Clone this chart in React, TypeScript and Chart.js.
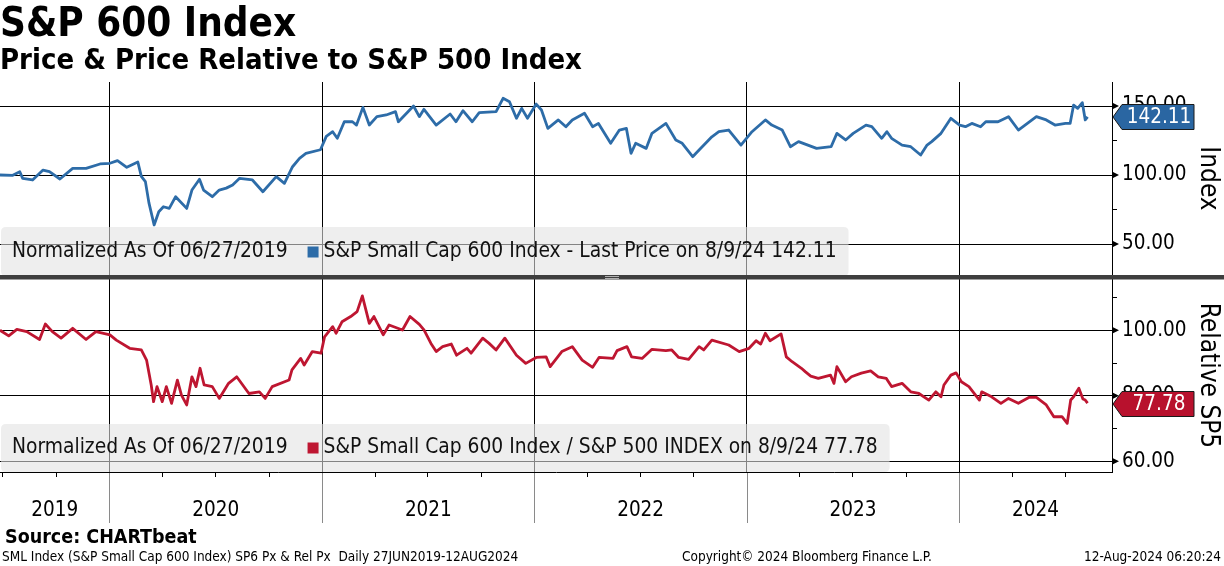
import React, { useEffect, useRef } from 'react';
import { Chart, registerables } from 'chart.js';

Chart.register(...registerables);

const FONT = '"DejaVu Sans Condensed", "DejaVu Sans", sans-serif';

const priceDates = [
  '2019-06-27','2019-07-19','2019-07-31','2019-08-05','2019-08-22','2019-09-09','2019-09-20','2019-10-08','2019-10-30','2019-11-22','2019-12-16',
  '2020-01-02','2020-01-15','2020-01-31','2020-02-19','2020-02-25','2020-03-03','2020-03-09','2020-03-18','2020-03-26','2020-04-03','2020-04-13','2020-04-24','2020-05-13','2020-05-22','2020-06-04','2020-06-11','2020-06-26','2020-07-08','2020-07-20','2020-07-31','2020-08-12','2020-09-03','2020-09-21','2020-10-14','2020-10-28','2020-11-11','2020-11-23','2020-12-04','2020-12-29',
  '2021-01-08','2021-01-19','2021-01-27','2021-02-08','2021-02-22','2021-03-01','2021-03-12','2021-03-23','2021-04-05','2021-04-21','2021-05-07','2021-05-12','2021-06-07','2021-06-17','2021-06-25','2021-07-16','2021-08-09','2021-08-19','2021-08-31','2021-09-16','2021-09-28','2021-10-27','2021-11-08','2021-11-19','2021-12-01','2021-12-10','2021-12-20',
  '2022-01-04','2022-01-13','2022-01-24','2022-02-11','2022-02-24','2022-03-07','2022-03-28','2022-04-11','2022-04-21','2022-05-12','2022-05-27','2022-06-08','2022-06-16','2022-06-24','2022-07-12','2022-07-22','2022-08-15','2022-09-01','2022-09-12','2022-09-30','2022-10-11','2022-11-02','2022-11-14','2022-12-01','2022-12-22',
  '2023-01-10','2023-02-02','2023-02-13','2023-03-03','2023-03-17','2023-03-31','2023-05-01','2023-05-26','2023-06-05','2023-06-20','2023-07-03','2023-07-25','2023-08-04','2023-08-21','2023-08-30','2023-09-07','2023-09-25','2023-10-10','2023-10-27','2023-11-07','2023-11-15','2023-12-01','2023-12-18',
  '2024-01-02','2024-01-12','2024-01-23','2024-02-07','2024-02-16','2024-03-08','2024-03-26','2024-04-12','2024-05-13','2024-05-30','2024-06-14','2024-07-02','2024-07-10','2024-07-16','2024-07-23','2024-07-31','2024-08-05','2024-08-09',
];
const priceValues = [
  100, 99.8, 102.4, 97.6, 96.4, 103.6, 102.4, 97.1, 104.8, 104.8, 108,
  108.5, 110.4, 105.6, 109.4, 99, 95.2, 80, 63.8, 73.4, 77, 75.8, 84.3, 75.8, 89.1, 96.9, 89.1, 84.3, 89.1, 90.5, 92.8, 97.6, 96.4, 87.9, 98.8, 94, 106, 112.1, 115.7, 118.3,
  128, 131.4, 126.6, 138.6, 138.6, 136.2, 149, 136.2, 142.3, 143.5, 145.9, 138.6, 150, 142.3, 147.6, 136.2, 144.2, 138.6, 146.6, 138.6, 145.2, 145.9, 155.6, 153.1, 141.1, 148.3, 141.1,
  151.4, 147.1, 133.8, 139.9, 135, 139.9, 144.7, 135, 137.4, 123, 132.6, 133.8, 115.7, 123, 119.3, 130.2, 137.4, 125.4, 123, 113.3, 118.1, 127.7, 131.4, 132.6, 121.7,
  131.4, 139.9, 136.2, 132.6, 120.5, 124.2, 119.3, 120.5, 130.2, 125.4, 130.2, 136.2, 135, 126.6, 131.4, 126.6, 121.7, 120.5, 114.5, 121.7, 124.2, 130.2, 141.1,
  136.2, 135, 137.4, 135, 138.6, 138.6, 142.3, 132.6, 142.3, 139.9, 136.2, 137.4, 137.4, 150.7, 148.3, 152.4, 139.9, 142.11,
];

const relDates = [
  '2019-06-27','2019-07-12','2019-07-26','2019-08-12','2019-09-03','2019-09-13','2019-09-25','2019-10-10','2019-10-30','2019-11-22','2019-12-09',
  '2020-01-02','2020-01-13','2020-02-05','2020-02-25','2020-03-05','2020-03-13','2020-03-17','2020-03-23','2020-04-01','2020-04-08','2020-04-17','2020-04-27','2020-05-04','2020-05-13','2020-05-22','2020-05-29','2020-06-05','2020-06-12','2020-06-26','2020-07-08','2020-07-24','2020-08-07','2020-08-28','2020-09-15','2020-09-25','2020-10-07','2020-11-05','2020-11-10','2020-11-25','2020-12-01','2020-12-15','2020-12-30',
  '2021-01-05','2021-01-19','2021-01-25','2021-02-04','2021-02-19','2021-03-02','2021-03-11','2021-03-23','2021-03-31','2021-04-16','2021-04-26','2021-05-19','2021-06-01','2021-06-17','2021-06-25','2021-07-07','2021-07-16','2021-07-27','2021-08-11','2021-08-20','2021-09-07','2021-09-14','2021-10-04','2021-10-15','2021-10-27','2021-11-11','2021-12-01','2021-12-17',
  '2022-01-04','2022-01-21','2022-01-28','2022-02-17','2022-03-07','2022-03-24','2022-04-11','2022-04-22','2022-05-16','2022-05-23','2022-06-09','2022-06-17','2022-07-05','2022-07-22','2022-08-15','2022-08-25','2022-09-06','2022-09-23','2022-10-11','2022-10-19','2022-11-02','2022-12-01','2022-12-19',
  '2023-01-05','2023-01-17','2023-01-25','2023-02-02','2023-02-10','2023-03-01','2023-03-10','2023-03-20','2023-04-05','2023-04-12','2023-04-21','2023-05-04','2023-05-25','2023-05-31','2023-06-05','2023-06-20','2023-06-30','2023-07-17','2023-08-02','2023-08-15','2023-08-29','2023-09-07','2023-09-25','2023-10-10','2023-10-24','2023-11-10','2023-11-22','2023-12-01','2023-12-06','2023-12-18','2023-12-27',
  '2024-01-05','2024-01-18','2024-02-05','2024-02-09','2024-02-26','2024-03-13','2024-03-26','2024-04-12','2024-04-30','2024-05-13','2024-05-30','2024-06-12','2024-06-26','2024-07-05','2024-07-11','2024-07-16','2024-07-25','2024-08-01','2024-08-05','2024-08-09',
];
const relValues = [
  100, 98.3, 100.3, 99.6, 97.2, 101.9, 99.6, 97.6, 100.6, 97.2, 99.6,
  98.6, 97, 94.5, 94, 90.9, 83.3, 78.2, 82.8, 78.2, 82.8, 77.7, 84.8, 80.2, 77.2, 85.8, 82.8, 88.4, 83.3, 82.8, 79.2, 83.8, 85.8, 80.7, 81.2, 79.2, 82.8, 84.8, 87.9, 91.4, 89.4, 93.5, 93,
  98, 101.1, 99.1, 102.6, 104.2, 105.7, 110.5, 102.1, 104.2, 98.6, 101.6, 100.1, 104.2, 101.8, 100.1, 96, 93.5, 95, 95.8, 92.4, 94.5, 93, 97.6, 96, 94, 97.6, 92.4, 89.9,
  91.7, 91.9, 88.9, 93.5, 95, 90.9, 88.7, 91.7, 91.4, 93.8, 95, 91.9, 91.4, 94.2, 93.8, 94, 91.7, 91.1, 95, 94, 97, 95.5, 93.5,
  94.5, 96.8, 95.8, 99.1, 96.8, 98.9, 91.9, 90.4, 88.4, 87.3, 86, 85.3, 86.3, 83.8, 88.9, 84.3, 85.8, 86.9, 87.6, 85.8, 85.3, 82.8, 83.8, 81.2, 80.7, 78.7, 81.2, 79.7, 83.3, 86.3, 87,
  84.3, 82.8, 78.7, 81.2, 79.7, 77.7, 79.2, 77.7, 79.5, 79.5, 77.2, 73.6, 73.6, 71.6, 78.7, 79.7, 82.3, 79, 78.7, 77.78,
];

const yearLabels = ['2019', '2020', '2021', '2022', '2023', '2024'];
const priceTicks = [50, 75, 100, 125, 150];
const priceMajor = [50, 100, 150];
const relTicks = [60, 70, 80, 90, 100, 110];
const relMajor = [60, 80, 100];

const xStart = '2019-06-27';
const xEnd = '2024-09-20';

const priceLegend = 'S&P Small Cap 600 Index - Last Price on 8/9/24 142.11';
const relLegend = 'S&P Small Cap 600 Index / S&P 500 INDEX on 8/9/24 77.78';
const normLabel = 'Normalized As Of 06/27/2019';

const BLUE = '#2d6ca8';
const RED = '#be1631';
const BLUE_BADGE = '#2a66a2';
const RED_BADGE = '#b8112d';

const toDay = (s: string) => {
  const [y, m, d] = s.split('-').map(Number);
  return Date.UTC(y, m - 1, d) / 86400000;
};

function roundRect(ctx: CanvasRenderingContext2D, x: number, y: number, w: number, h: number, r: number) {
  ctx.beginPath();
  ctx.moveTo(x + r, y);
  ctx.lineTo(x + w - r, y);
  ctx.quadraticCurveTo(x + w, y, x + w, y + r);
  ctx.lineTo(x + w, y + h - r);
  ctx.quadraticCurveTo(x + w, y + h, x + w - r, y + h);
  ctx.lineTo(x + r, y + h);
  ctx.quadraticCurveTo(x, y + h, x, y + h - r);
  ctx.lineTo(x, y + r);
  ctx.quadraticCurveTo(x, y, x + r, y);
  ctx.closePath();
}

function legendBox(ctx: CanvasRenderingContext2D, top: number, bottom: number, midY: number, color: string, label: string) {
  ctx.font = `20.8px ${FONT}`;
  const w1 = ctx.measureText(normLabel).width;
  const sqX = 12 + w1 + 20;
  const txtX = sqX + 16;
  const w2 = ctx.measureText(label).width;
  const right = txtX + w2 + 12;
  ctx.fillStyle = 'rgba(226,226,226,0.58)';
  roundRect(ctx, 1, top, right - 1, bottom - top, 5);
  ctx.fill();
  ctx.fillStyle = '#111';
  ctx.textAlign = 'left';
  ctx.textBaseline = 'middle';
  ctx.fillText(normLabel, 12, midY);
  ctx.fillStyle = color;
  ctx.fillRect(sqX, midY - 5.5, 11, 11);
  ctx.fillStyle = '#111';
  ctx.fillText(label, txtX, midY);
}

function badge(ctx: CanvasRenderingContext2D, y: number, text: string, color: string) {
  const tip = 1113, base = 1122, right = 1194, h = 25;
  const top = Math.round(y - h / 2) + 0.5;
  ctx.beginPath();
  ctx.moveTo(tip, top + h / 2);
  ctx.lineTo(base, top);
  ctx.lineTo(right, top);
  ctx.lineTo(right, top + h);
  ctx.lineTo(base, top + h);
  ctx.closePath();
  ctx.fillStyle = color;
  ctx.fill();
  ctx.strokeStyle = '#1a1a1a';
  ctx.lineWidth = 1;
  ctx.stroke();
  ctx.fillStyle = '#fff';
  ctx.font = `20.5px ${FONT}`;
  ctx.textAlign = 'center';
  ctx.textBaseline = 'middle';
  ctx.fillText(text, (base + right) / 2 + 1, top + h / 2 + 1);
}

const overlayPlugin = {
  id: 'overlay',
  beforeDraw(chart: any) {
    const { ctx } = chart;
    ctx.save();
    ctx.fillStyle = '#fff';
    ctx.fillRect(0, 0, chart.width, chart.height);
    ctx.restore();
  },
  afterDraw(chart: any) {
    const { ctx, chartArea: ca, scales } = chart;
    const xs = scales.x, yp = scales.price, yr = scales.rel;
    ctx.save();

    // legends
    legendBox(ctx, 227, 276, 252, BLUE, priceLegend);
    legendBox(ctx, 424, ca.bottom, 448, RED, relLegend);

    // separator
    ctx.fillStyle = '#3e3e3e';
    ctx.fillRect(0, 275, chart.width, 4.5);
    ctx.fillStyle = '#b0b0b0';
    ctx.fillRect(605, 276, 14, 1);
    ctx.fillRect(605, 278, 14, 1);

    // y axis arrow markers at major ticks
    ctx.fillStyle = '#000';
    const arrow = (yy: number) => {
      ctx.beginPath();
      ctx.moveTo(ca.right, yy - 3.5);
      ctx.lineTo(ca.right + 7, yy);
      ctx.lineTo(ca.right, yy + 3.5);
      ctx.closePath();
      ctx.fill();
    };
    priceMajor.forEach((v) => arrow(yp.getPixelForValue(v)));
    relMajor.forEach((v) => arrow(yr.getPixelForValue(v)));

    // x axis: quarter ticks, year separators in the label band, year labels
    const xMin = xs.min, xMax = xs.max;
    ctx.strokeStyle = '#000';
    ctx.lineWidth = 1;
    for (let yv = 2019; yv <= 2024; yv++) {
      [4, 7, 10].forEach((m) => {
        const d = toDay(`${yv}-${String(m).padStart(2, '0')}-01`);
        if (d > xMin && d < xMax) {
          const px = Math.round(xs.getPixelForValue(d)) + 0.5;
          ctx.beginPath();
          ctx.moveTo(px, ca.bottom);
          ctx.lineTo(px, ca.bottom + 5);
          ctx.stroke();
        }
      });
    }
    ctx.strokeStyle = '#8a8a8a';
    for (let yv = 2020; yv <= 2024; yv++) {
      const px = Math.round(xs.getPixelForValue(toDay(`${yv}-01-01`))) + 0.5;
      ctx.beginPath();
      ctx.moveTo(px, ca.bottom + 1);
      ctx.lineTo(px, 523);
      ctx.stroke();
    }
    ctx.fillStyle = '#000';
    ctx.font = `20.5px ${FONT}`;
    ctx.textAlign = 'center';
    ctx.textBaseline = 'middle';
    yearLabels.forEach((lab) => {
      const yv = Number(lab);
      const s = Math.max(xMin, toDay(`${yv}-01-01`));
      const e = Math.min(xMax, toDay(`${yv + 1}-01-01`));
      const cx = (xs.getPixelForValue(s) + xs.getPixelForValue(e)) / 2;
      ctx.fillText(lab, cx, 511);
    });

    // last value badges
    badge(ctx, yp.getPixelForValue(priceValues[priceValues.length - 1]), priceValues[priceValues.length - 1].toFixed(2), BLUE_BADGE);
    badge(ctx, yr.getPixelForValue(relValues[relValues.length - 1]), relValues[relValues.length - 1].toFixed(2), RED_BADGE);

    // axis titles
    ctx.fillStyle = '#000';
    ctx.font = `26px ${FONT}`;
    const vTitle = (t: string, cy: number) => {
      ctx.save();
      ctx.translate(1208, cy);
      ctx.rotate(Math.PI / 2);
      ctx.textAlign = 'center';
      ctx.textBaseline = 'middle';
      ctx.fillText(t, 0, 0);
      ctx.restore();
    };
    vTitle('Index', (yp.top + 275) / 2);
    vTitle('Relative SP5', (279 + yr.bottom) / 2);

    // titles
    ctx.textAlign = 'left';
    ctx.textBaseline = 'alphabetic';
    ctx.fillStyle = '#000';
    ctx.font = `bold 40px ${FONT}`;
    ctx.fillText('S&P 600 Index', 0, 36);
    ctx.font = `bold 29px ${FONT}`;
    ctx.fillText('Price & Price Relative to S&P 500 Index', 0, 69);

    // footer
    ctx.font = `bold 19.5px ${FONT}`;
    ctx.fillText('Source: CHARTbeat', 5, 543);
    ctx.font = `13.5px ${FONT}`;
    ctx.fillText('SML Index (S&P Small Cap 600 Index) SP6 Px & Rel Px  Daily 27JUN2019-12AUG2024', 2, 561);
    ctx.fillText('Copyright\u00A9 2024 Bloomberg Finance L.P.', 682, 561);
    ctx.textAlign = 'right';
    ctx.fillText('12-Aug-2024 06:20:24', 1221, 561);

    ctx.restore();
  },
};

export default function App() {
  const ref = useRef<HTMLCanvasElement | null>(null);

  useEffect(() => {
    if (!ref.current) return;
    const yearStarts = [2020, 2021, 2022, 2023, 2024].map((y) => toDay(`${y}-01-01`));
    const chart = new Chart(ref.current, {
      type: 'line',
      data: {
        datasets: [
          {
            label: priceLegend,
            data: priceDates.map((d, i) => ({ x: toDay(d), y: priceValues[i] })),
            borderColor: BLUE,
            borderWidth: 2.8,
            pointRadius: 0,
            tension: 0,
            borderJoinStyle: 'round',
            xAxisID: 'x',
            yAxisID: 'price',
          },
          {
            label: relLegend,
            data: relDates.map((d, i) => ({ x: toDay(d), y: relValues[i] })),
            borderColor: RED,
            borderWidth: 2.8,
            pointRadius: 0,
            tension: 0,
            borderJoinStyle: 'round',
            xAxisID: 'x',
            yAxisID: 'rel',
          },
        ],
      },
      options: {
        animation: false,
        responsive: false,
        devicePixelRatio: 1,
        layout: { padding: { top: 82, left: 0, right: 0, bottom: 0 } },
        plugins: { legend: { display: false }, tooltip: { enabled: false }, title: { display: false } },
        scales: {
          x: {
            type: 'linear',
            position: 'bottom',
            min: toDay(xStart),
            max: toDay(xEnd),
            afterBuildTicks: (a: any) => { a.ticks = yearStarts.map((v) => ({ value: v })); },
            afterFit: (a: any) => { a.height = 94; },
            grid: { color: '#000', lineWidth: 1, drawTicks: false },
            border: { display: true, color: '#000', width: 1 },
            ticks: { display: false },
          },
          price: {
            type: 'linear',
            position: 'right',
            stack: 'panels',
            stackWeight: 1,
            min: 26.1,
            max: 167.4,
            afterBuildTicks: (a: any) => { a.ticks = priceTicks.map((v) => ({ value: v })); },
            afterFit: (a: any) => { a.width = 112; },
            grid: {
              color: (c: any) => (c.tick && priceMajor.includes(c.tick.value) ? '#000' : 'rgba(0,0,0,0)'),
              lineWidth: 1,
              drawTicks: true,
              tickLength: 5,
              tickColor: '#000',
            },
            border: { display: true, color: '#000', width: 1 },
            ticks: {
              autoSkip: false,
              padding: 5,
              color: '#000',
              font: { family: FONT, size: 20.5 },
              callback: (v: any) => (priceMajor.includes(Number(v)) ? Number(v).toFixed(2) : ''),
            },
          },
          rel: {
            type: 'linear',
            position: 'right',
            stack: 'panels',
            stackWeight: 1,
            min: 56.73,
            max: 116.27,
            afterBuildTicks: (a: any) => { a.ticks = relTicks.map((v) => ({ value: v })); },
            afterFit: (a: any) => { a.width = 112; },
            grid: {
              color: (c: any) => (c.tick && relMajor.includes(c.tick.value) ? '#000' : 'rgba(0,0,0,0)'),
              lineWidth: 1,
              drawTicks: true,
              tickLength: 5,
              tickColor: '#000',
            },
            border: { display: true, color: '#000', width: 1 },
            ticks: {
              autoSkip: false,
              padding: 5,
              color: '#000',
              font: { family: FONT, size: 20.5 },
              callback: (v: any) => (relMajor.includes(Number(v)) ? Number(v).toFixed(2) : ''),
            },
          },
        },
      } as any,
      plugins: [overlayPlugin],
    });
    return () => chart.destroy();
  }, []);

  return (
    <div style={{ position: 'fixed', left: 0, top: 0, width: 1224, height: 566, background: '#fff' }}>
      <canvas ref={ref} width={1224} height={566} style={{ display: 'block', width: 1224, height: 566 }} />
    </div>
  );
}
